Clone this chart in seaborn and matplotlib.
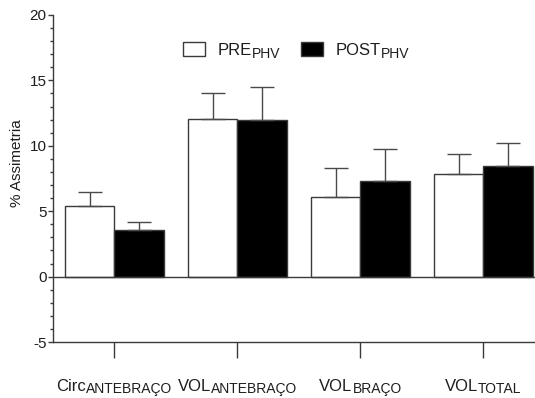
import matplotlib
matplotlib.use("Agg")
import matplotlib.pyplot as plt
from matplotlib.ticker import MultipleLocator
from matplotlib.patches import Patch
import pandas as pd
import seaborn as sns

# data
cat_main = ["Circ", "VOL", "VOL", "VOL"]
cat_sub = ["ANTEBRAÇO", "ANTEBRAÇO", "BRAÇO", "TOTAL"]
categories = [m + " " + s for m, s in zip(cat_main, cat_sub)]
groups = ["PRE", "POST"]
group_sub = "PHV"
pre_mean = [5.4, 12.05, 6.05, 7.85]
pre_err = [1.1, 1.95, 2.25, 1.55]
post_mean = [3.55, 11.95, 7.3, 8.45]
post_err = [0.6, 2.55, 2.45, 1.8]

sns.set_style("ticks")
plt.rcParams["font.family"] = ["Liberation Sans", "DejaVu Sans"]
plt.rcParams["axes.unicode_minus"] = False

df = pd.DataFrame({
    "cat": categories * 2,
    "grp": [groups[0]] * 4 + [groups[1]] * 4,
    "val": pre_mean + post_mean,
})

W, H = 535, 398
fig = plt.figure(figsize=(W / 100, H / 100), dpi=100)
ax = fig.add_axes([53 / W, 1 - 342 / H, 482 / W, 327 / H])

line_col = "#3a3a3a"
text_col = "#1e1e1e"
sns.barplot(data=df, x="cat", y="val", hue="grp", order=categories, hue_order=groups,
            palette=["white", "black"], edgecolor=line_col, linewidth=1.0,
            errorbar=None, width=0.8, ax=ax, saturation=1, legend=False)

# upward-only error bars
errs = pre_err + post_err
means = pre_mean + post_mean
for patch, m, e in zip(ax.patches[:8], means, errs):
    xc = patch.get_x() + patch.get_width() / 2
    ax.errorbar(xc, m, yerr=[[0], [e]], fmt="none", ecolor="#4a4a4a",
                elinewidth=1.0, capsize=8.6, capthick=1.0, zorder=1)

ax.axhline(0, color=line_col, lw=1.0, zorder=3)
ax.set_ylim(-5, 20)
ax.set_xlim(-0.5, 3.42)
ax.yaxis.set_major_locator(MultipleLocator(5))
ax.yaxis.set_minor_locator(MultipleLocator(1))

for s in ["top", "right"]:
    ax.spines[s].set_visible(False)
for s in ["left", "bottom"]:
    ax.spines[s].set_color(line_col)
    ax.spines[s].set_linewidth(1.0)

ax.tick_params(axis="y", which="major", length=3.6, width=1, color=line_col,
               labelsize=11, labelcolor=text_col, pad=1)
ax.tick_params(axis="y", which="minor", length=2.2, width=1, color=line_col)
ax.tick_params(axis="x", length=11.5, width=1, color=line_col)
ax.set_xticks(range(len(categories)))
ax.set_xticklabels([""] * len(categories))

ax.set_xlabel("")
ax.set_ylabel("")
fig.text(17 / W, 1 - 163 / H, "% Assimetria", rotation=90, fontsize=11,
         color=text_col, ha="center", va="center")

# category labels with subscripts
fig.canvas.draw()
rend = fig.canvas.get_renderer()
for i, (m, s) in enumerate(zip(cat_main, cat_sub)):
    xpx = ax.transData.transform((i, 0))[0]
    tm = fig.text(0, 0, m, fontsize=12, color=text_col, va="baseline")
    ts = fig.text(0, 0, s, fontsize=10, color=text_col, va="baseline")
    wm = tm.get_window_extent(rend).width
    ws = ts.get_window_extent(rend).width
    x0 = xpx - (wm + ws) / 2
    tm.set_position((x0 / W, (H - 391) / H))
    ts.set_position(((x0 + wm) / W, (H - 393) / H))

# legend
handles = [Patch(facecolor="white", edgecolor=line_col, lw=1.0),
           Patch(facecolor="black", edgecolor=line_col, lw=1.0)]
leg = fig.legend(handles, groups, loc="center left", bbox_to_anchor=(183 / W, 1 - 50 / H),
                 ncol=2, frameon=False, fontsize=12, handlelength=1.32, handleheight=0.9,
                 handletextpad=0.78, columnspacing=2.9, borderpad=0, borderaxespad=0)
for t in leg.get_texts():
    t.set_color(text_col)
    fig.canvas.draw()
    ax.annotate(group_sub, xy=(1, 0), xycoords=t, xytext=(0, -0.5),
                textcoords="offset pixels", fontsize=10, color=text_col,
                va="baseline", ha="left", annotation_clip=False)

fig.savefig("out.png", dpi=100)
